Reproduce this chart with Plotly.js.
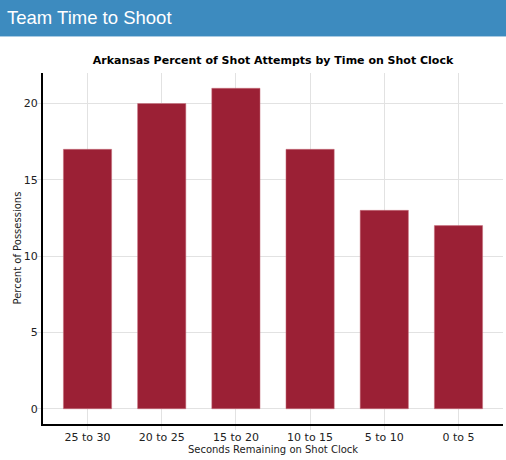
<!DOCTYPE html>
<html><head><meta charset="utf-8">
<script src="https://cdn.plot.ly/plotly-3.0.1.min.js"></script>
<style>
html,body{margin:0;padding:0;background:#fff;width:506px;height:460px;overflow:hidden;}
#hdr{position:absolute;left:0;top:0;width:506px;height:37px;background:#3d8bbf;border-bottom:1px solid #a9cbe3;color:#fff;font-family:"Liberation Sans",Arial,sans-serif;font-size:18.5px;line-height:35px;padding-left:7px;box-sizing:border-box;}
#chart{position:absolute;left:0;top:0;width:506px;height:460px;}
</style></head>
<body>
<div id="chart"></div>
<div id="hdr">Team Time to Shoot</div>
<script>
const categories = ["25 to 30","20 to 25","15 to 20","10 to 15","5 to 10","0 to 5"];
const percentValues = [17, 20, 21, 17, 13, 12];
const yTickValues = [0, 5, 10, 15, 20];

const trace = {
  type: 'bar',
  x: categories,
  y: percentValues,
  width: 0.65,
  marker: {color: '#9b2035', line: {color: '#c9707e', width: 0.5}},
  hoverinfo: 'x+y'
};
const layout = {
  width: 506, height: 460,
  margin: {l: 43, r: 3, t: 73, b: 36, pad: 0},
  paper_bgcolor: '#fff', plot_bgcolor: '#fff',
  showlegend: false,
  title: {text: 'Arkansas Percent of Shot Attempts by Time on Shot Clock',
          font: {family: 'DejaVu Sans', size: 11, color: '#000', weight: 'bold'},
          x: 0.5, xref: 'paper', y: 1 - 60/460, yref: 'container', yanchor: 'middle'},
  xaxis: {
    type: 'category', range: [-0.6, 5.6],
    showline: true, linecolor: '#000', linewidth: 2,
    showgrid: true, gridcolor: '#e2e2e2', gridwidth: 1,
    ticks: 'outside', ticklen: 4, tickcolor: '#e2e2e2', tickwidth: 1,
    ticklabelstandoff: -2,
    tickfont: {family: 'DejaVu Sans', size: 11, color: '#222'},
    title: {text: 'Seconds Remaining on Shot Clock', font: {family: 'DejaVu Sans', size: 10, color: '#222'}, standoff: 2},
    zeroline: false
  },
  yaxis: {
    range: [-1, 22], tickvals: yTickValues,
    showline: true, linecolor: '#000', linewidth: 2,
    showgrid: true, gridcolor: '#e2e2e2', gridwidth: 1,
    ticks: 'outside', ticklen: 4, tickcolor: '#e2e2e2', tickwidth: 1,
    ticklabelstandoff: -3,
    tickfont: {family: 'DejaVu Sans', size: 11, color: '#222'},
    zeroline: false
  },
  annotations: [{
    text: 'Percent of Possessions', textangle: -90,
    xref: 'paper', x: -26/460, xanchor: 'center',
    yref: 'paper', y: 0.5, yanchor: 'middle',
    showarrow: false,
    font: {family: 'DejaVu Sans', size: 10, color: '#222'}
  }]
};
Plotly.newPlot('chart', [trace], layout, {displayModeBar: false, staticPlot: true});
</script>
</body></html>
